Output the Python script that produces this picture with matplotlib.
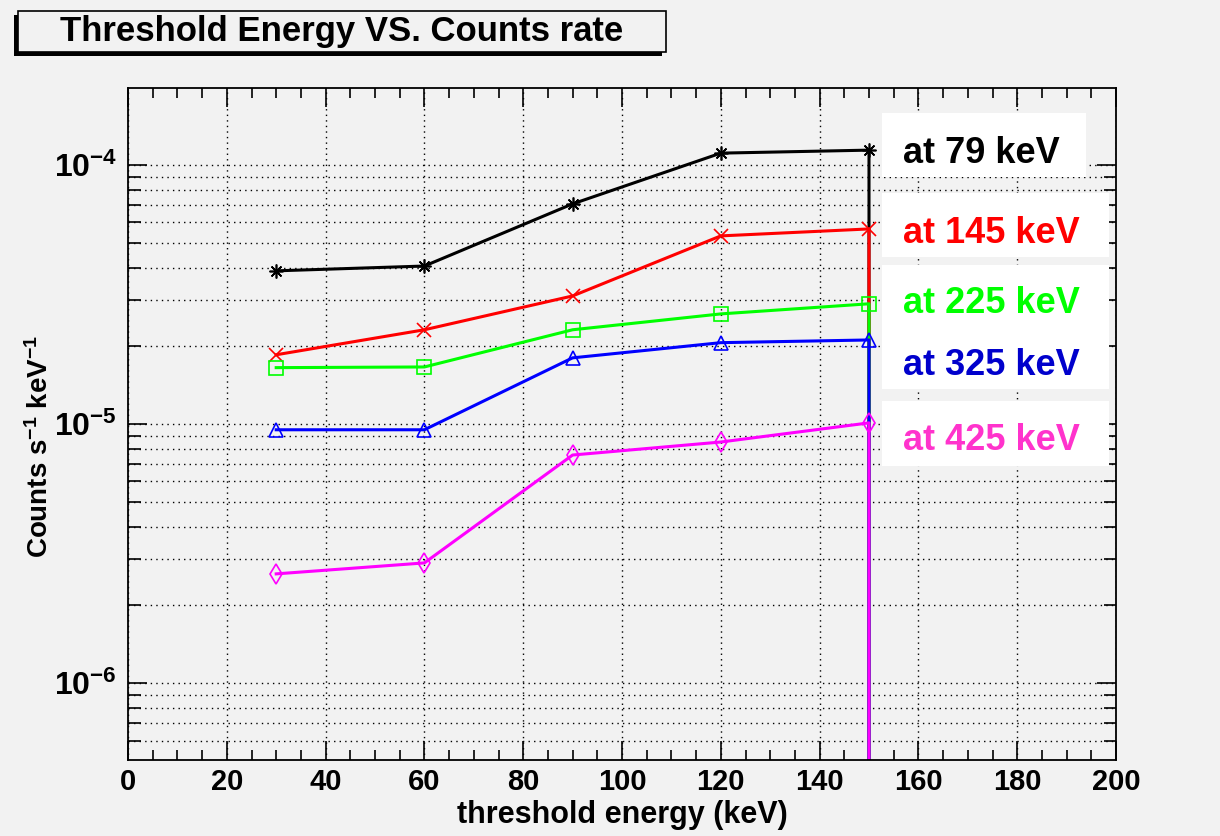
import numpy as np
import matplotlib
matplotlib.use("Agg")
import matplotlib.pyplot as plt
from matplotlib.patches import Rectangle
from matplotlib.ticker import LogLocator, FixedLocator, MultipleLocator, FuncFormatter

plt.rcParams["font.family"] = ["Liberation Sans", "DejaVu Sans"]
plt.rcParams["font.weight"] = "bold"
plt.rcParams["axes.labelweight"] = "bold"
plt.rcParams["mathtext.default"] = "regular"

# threshold energies (keV); last point is the zero at 150 keV that drops off the log axis
threshold = [30, 60, 90, 120, 150, 150]
rate_79 = [3.9e-5, 4.07e-5, 7.07e-5, 1.11e-4, 1.14e-4, 0]
rate_145 = [1.85e-5, 2.31e-5, 3.12e-5, 5.32e-5, 5.66e-5, 0]
rate_225 = [1.65e-5, 1.66e-5, 2.31e-5, 2.66e-5, 2.91e-5, 0]
rate_325 = [9.5e-6, 9.5e-6, 1.80e-5, 2.06e-5, 2.11e-5, 0]
rate_425 = [2.64e-6, 2.91e-6, 7.59e-6, 8.52e-6, 1.01e-5, 0]

labels = ["at 79 keV", "at 145 keV", "at 225 keV", "at 325 keV", "at 425 keV"]
series = [rate_79, rate_145, rate_225, rate_325, rate_425]
line_colors = ["#000000", "#ff0000", "#00ff00", "#0000ff", "#ff00ff"]
text_colors = ["#000000", "#ff0000", "#00ff00", "#0000cc", "#ff33cc"]
markers = [(8, 2, 0), "x", "s", "^", "d"]

bg = "#f2f2f2"
W, H = 1220, 836
fig = plt.figure(figsize=(12.2, 8.36), dpi=100, facecolor=bg)
ax = fig.add_axes([128 / W, 1 - 760 / H, 988 / W, 672 / H], facecolor=bg)

for y, c, m in zip(series, line_colors, markers):
    ax.plot(threshold, y, color=c, lw=2.2, marker=m, markersize=10,
            markerfacecolor="none", markeredgecolor=c, markeredgewidth=1.2)

ax.set_yscale("log", nonpositive="clip")
ax.set_xlim(0, 200)
ax.set_ylim(5.05e-7, 1.98e-4)

ax.xaxis.set_major_locator(MultipleLocator(20))
ax.xaxis.set_minor_locator(MultipleLocator(5))
ax.yaxis.set_major_locator(FixedLocator([1e-6, 1e-5, 1e-4]))
ax.yaxis.set_minor_locator(LogLocator(base=10, subs=np.arange(2, 10)))
ax.yaxis.set_major_formatter(FuncFormatter(lambda v, p: r"$10^{%d}$" % round(np.log10(v))))
ax.yaxis.set_minor_formatter(FuncFormatter(lambda v, p: ""))

ax.tick_params(which="both", direction="in", top=True, right=True, width=1.2, color="black")
ax.tick_params(axis="x", which="major", length=14, labelsize=21, pad=6)
ax.tick_params(axis="x", which="minor", length=7)
ax.tick_params(axis="y", which="major", length=14, labelsize=23, pad=8)
ax.tick_params(axis="y", which="minor", length=9)

ax.grid(True, axis="x", which="major", color="black", ls=(0, (1, 3)), lw=1)
ax.grid(True, axis="y", which="both", color="black", ls=(0, (1, 3)), lw=1)
ax.set_axisbelow(True)
for s in ax.spines.values():
    s.set_linewidth(1.3)

ax.set_xlabel("threshold energy (keV)", fontsize=22, labelpad=3)
ax.set_ylabel(r"Counts s$^{-1}$ keV$^{-1}$", fontsize=20)
ax.yaxis.label.set_va("center")
ax.yaxis.set_label_coords(-0.089, 0.467)

# title box with shadow
def fig_rect(x0, y0, x1, y1, **kw):
    r = Rectangle((x0 / W, 1 - y1 / H), (x1 - x0) / W, (y1 - y0) / H,
                  transform=fig.transFigure, **kw)
    fig.patches.append(r)

fig_rect(14, 15, 662, 56, facecolor="black", edgecolor="none")
fig_rect(18, 11, 666, 52, facecolor=bg, edgecolor="black", lw=1.2)
fig.text(342 / W, 1 - 32 / H, "Threshold Energy VS. Counts rate", fontsize=25,
         ha="center", va="center", color="black")

# legend boxes
fig_rect(882, 113, 1086, 177, facecolor="white", edgecolor="none", zorder=5)
fig_rect(882, 193, 1109, 257, facecolor="white", edgecolor="none", zorder=5)
fig_rect(882, 265, 1109, 389, facecolor="white", edgecolor="none", zorder=5)
fig_rect(882, 401, 1109, 466, facecolor="white", edgecolor="none", zorder=5)

baselines = [163, 243, 313, 375, 450]
for lab, c, yb in zip(labels, text_colors, baselines):
    fig.text(903 / W, 1 - yb / H, lab, fontsize=26, color=c, ha="left",
             va="baseline", zorder=6)

fig.savefig("out.png", dpi=100, facecolor=bg)
